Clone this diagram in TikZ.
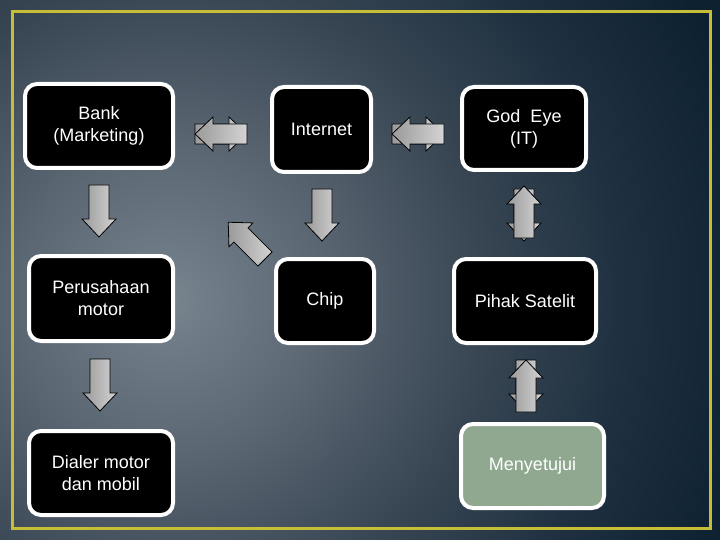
\documentclass[tikz,border=0pt]{standalone}
\usepackage{fontspec}
\setmainfont{Liberation Sans}
\definecolor{bgA}{HTML}{77838D}
\definecolor{bgB}{HTML}{5B6773}
\definecolor{bgC}{HTML}{3B4855}
\definecolor{bgD}{HTML}{1F3141}
\definecolor{bgE}{HTML}{0E2131}
\definecolor{frameyel}{HTML}{C6BE36}
\definecolor{sage}{HTML}{8FA88F}
\definecolor{arrL}{HTML}{9A9A9A}
\definecolor{arrR}{HTML}{D4D4D4}
\pgfdeclareradialshading{bgshade}{\pgfpoint{0bp}{0bp}}{color(0bp)=(bgA); color(5.8bp)=(bgB); color(11.5bp)=(bgC); color(17.3bp)=(bgD); color(23bp)=(bgE); color(50bp)=(bgE)}
\tikzset{
  box/.style={draw=white, line width=4pt, fill=black, rounded corners=12pt, text=white,
    align=center, font=\fontsize{18}{22}\selectfont, inner sep=0pt},
  arrowfill/.style={draw=black, line width=0.8pt, left color=arrL, right color=arrR}
}
\newcommand\blkarrow[3][]{%
  \begin{scope}[shift={(#2)}, rotate=#3]
    \path[arrowfill,#1] (0,-10) -- (34,-10) -- (34,-17) -- (52,0) -- (34,17) -- (34,10) -- (0,10) -- cycle;
  \end{scope}}
\begin{document}
\begin{tikzpicture}[x=1pt,y=-1pt]
  \useasboundingbox (0,0) rectangle (720,540);
  \begin{scope}
    \clip (0,0) rectangle (720,540);
    \shade[shading=bgshade] (170,300) circle (650);
  \end{scope}
  \draw[frameyel, line width=3pt] (12,12) rectangle (710,528);

  % nodes
  \node[box, minimum width=148pt, minimum height=84pt] (bank) at (99,126) {Bank\\(Marketing)};
  \node[box, minimum width=99pt, minimum height=85pt] (internet) at (321.5,129.5) {Internet};
  \node[box, minimum width=124pt, minimum height=83pt] (godeye) at (524,128.5) {God~ Eye\\(IT)};
  \node[box, minimum width=144pt, minimum height=85pt] (motor) at (101,298.5) {Perusahaan\\motor};
  \node[box, minimum width=98pt, minimum height=84pt] (chip) at (325,301) {Chip};
  \node[box, minimum width=142pt, minimum height=84pt] (satelit) at (525,301) {Pihak Satelit};
  \node[box, minimum width=144pt, minimum height=84pt] (dialer) at (101,473) {Dialer motor\\dan mobil};
  \node[box, fill=sage, minimum width=143pt, minimum height=84pt] (setuju) at (532.5,466) {Menyetujui};

  % single arrows
  \blkarrow{99,185}{-90}
  \blkarrow{322,189}{-90}
  \blkarrow{100,359}{-90}
  \blkarrow{265,259}{135}
  % double arrows (back one first)
  \blkarrow{195,134}{0}
  \blkarrow{247,134}{180}
  \blkarrow{392,134}{0}
  \blkarrow{444,134}{180}
  \blkarrow{524,189}{-90}
  \blkarrow{524,238}{90}
  \blkarrow{526,360}{-90}
  \blkarrow{526,412}{90}
\end{tikzpicture}
\end{document}
